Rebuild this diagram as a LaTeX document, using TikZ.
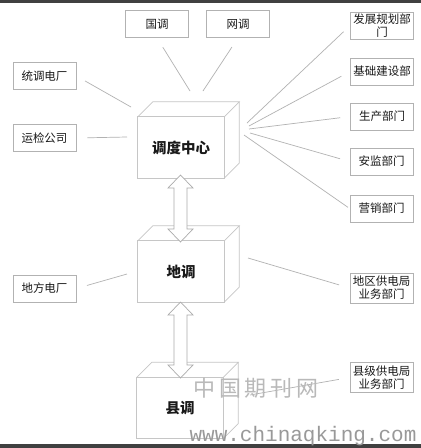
\documentclass[tikz,border=0pt]{standalone}
\usepackage{fontspec}
\newfontfamily\cjk{Noto Sans CJK SC}
\newfontfamily\wmono{Liberation Mono}
\usetikzlibrary{calc}
\newcommand\myarrow[2]{%
  \draw[dblarrow] (#1) -- ($(#1)+(12.5,13)$) -- ($(#1)+(6.5,13)$) -- ($(#2)+(6.5,-13)$) -- ($(#2)+(12.5,-13)$) -- (#2) -- ($(#2)+(-12.5,-13)$) -- ($(#2)+(-6.5,-13)$) -- ($(#1)+(-6.5,13)$) -- ($(#1)+(-12.5,13)$) -- cycle;}
\newcommand\mycube[1]{%
  \draw[cubeline] (#1.north west) -- ++(15,-15) -- ($(#1.north east)+(15,-15)$) -- (#1.north east);
  \draw[cubeline] ($(#1.north east)+(15,-15)$) -- ($(#1.south east)+(15,-15)$) -- (#1.south east);
  \draw[cubeline] (#1.south west) rectangle (#1.north east);}
\begin{document}
\begin{tikzpicture}[x=1pt,y=-1pt,
  sbox/.style={draw=gray!60, line width=0.7pt, minimum width=63pt, minimum height=27pt, inner sep=1pt, align=center, text=black!90, font=\cjk\fontsize{11.5}{13}\selectfont},
  cube/.style={minimum width=86pt, minimum height=61pt, inner sep=0pt, text=black!90, font=\cjk\bfseries\fontsize{14.5}{16}\selectfont},
  cubeline/.style={draw=gray!45, line width=0.7pt},
  conn/.style={draw=gray!60, line width=0.7pt},
  dblarrow/.style={draw=gray!65, fill=white, line width=0.7pt}]
\fill[white] (0,0) rectangle (421,448);
\fill[black!75] (0,0) rectangle (421,3);
\fill[black!75] (0,444) rectangle (421,448);
% small boxes
\node[sbox] (guo) at (157,24) {国调};
\node[sbox] (wang) at (238,24) {网调};
\node[sbox] (fz) at (382,25.5) {发展规划部\\门};
\node[sbox] (jc) at (382,71.5) {基础建设部};
\node[sbox] (sc) at (382,116.5) {生产部门};
\node[sbox] (aj) at (381.5,161.5) {安监部门};
\node[sbox] (yx) at (381.5,208.5) {营销部门};
\node[sbox, minimum height=30pt] (dq) at (381.5,288) {地区供电局\\业务部门};
\node[sbox, minimum height=30pt] (xj) at (381.5,377.5) {县级供电局\\业务部门};
\node[sbox] (td) at (44.5,76) {统调电厂};
\node[sbox] (yj) at (44.5,138) {运检公司};
\node[sbox] (df) at (44.5,288.5) {地方电厂};
% cubes
\node[cube] (ddzx) at (181,147.5) {调度中心};
\node[cube] (dd) at (181,271.5) {地调};
\node[cube] (xd) at (180,408) {县调};
\mycube{ddzx}
\mycube{dd}
\mycube{xd}
% arrows
\coordinate (t1) at (180.5,175);
\coordinate (b1) at (180.5,242);
\coordinate (t2) at (180.5,302);
\coordinate (b2) at (180.5,378);
\myarrow{t1}{b1}
\myarrow{t2}{b2}
% connector free ends
\coordinate (c1) at (190,91);
\coordinate (c2) at (203,91);
\coordinate (c3) at (131,107);
\coordinate (c4) at (127,137);
\coordinate (c5) at (247,123);
\coordinate (c6) at (249,126);
\coordinate (c7) at (249,129);
\coordinate (c8) at (250,133);
\coordinate (c9) at (244,135);
\coordinate (c10) at (248,258);
\coordinate (c11) at (250,395);
\coordinate (c12) at (127,274);
\draw[conn, shorten <=11pt] (guo.south) -- (c1);
\draw[conn, shorten <=11pt] (wang.south) -- (c2);
\draw[conn, shorten <=10pt] (td.east) -- (c3);
\draw[conn, shorten <=11pt] (yj.east) -- (c4);
\draw[conn, shorten <=9pt] (fz.west) -- (c5);
\draw[conn, shorten <=10pt] (jc.west) -- (c6);
\draw[conn, shorten <=10pt] (sc.west) -- (c7);
\draw[conn, shorten <=10pt] (aj.west) -- (c8);
\draw[conn, shorten <=2pt] (yx.west) -- (c9);
\draw[conn, shorten <=11pt] (dq.west) -- (c10);
\draw[conn, shorten <=11pt] (xj.west) -- (c11);
\draw[conn, shorten <=11pt] (df.east) -- (c12);
% watermark
\node[text=gray!55, font=\cjk\fontsize{22}{24}\selectfont, inner sep=0pt] (wm1) at (256,388) {中\,国\,期\,刊\,网};
\node[text=gray!80, font=\wmono\fontsize{21}{22}\selectfont, inner sep=0pt, anchor=base] (wm2) at (303,441) {www.chinaqking.com};
\end{tikzpicture}
\end{document}
